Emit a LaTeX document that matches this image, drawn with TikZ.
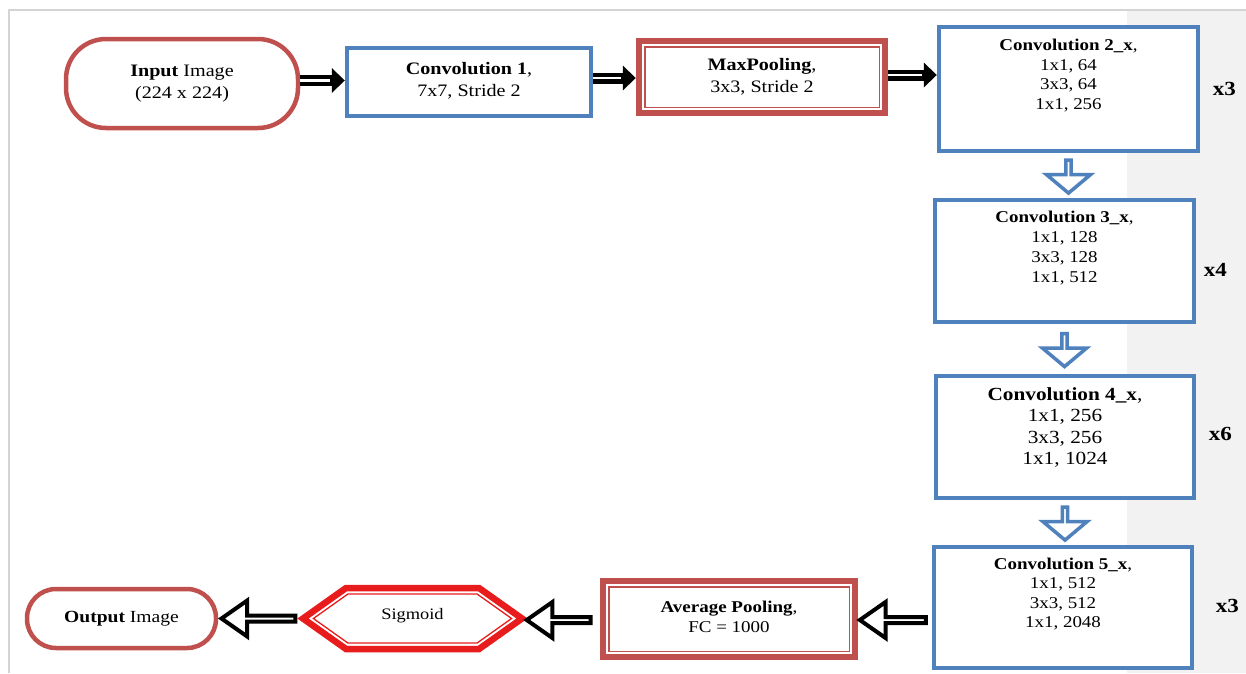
\documentclass[tikz,border=0pt]{standalone}
\usepackage{fontspec}
\setmainfont{Liberation Serif}[FakeStretch=1.15]
\usetikzlibrary{arrows.meta,shapes.arrows,calc}
\definecolor{cblue}{RGB}{79,129,189}
\definecolor{cred}{RGB}{192,80,77}
\definecolor{sred}{RGB}{232,28,28}
\definecolor{bggray}{RGB}{242,242,242}
\definecolor{framegray}{RGB}{212,212,212}
\tikzset{
  txt/.style={align=center, inner sep=0pt, text=black},
  bluebox/.style={draw=cblue, line width=4.5pt, fill=white, inner sep=0pt},
  roundbox/.style={draw=cred, line width=4.5pt, fill=white, align=center, inner sep=0pt},
  dblbox/.style={draw=cred, line width=6.5pt, fill=white, align=center, inner sep=0pt},
  innerline/.style={draw=cred, line width=1.5pt},
  blk/.style={black, line width=11pt, -{Triangle[length=13pt,width=25pt,line width=0pt]}},
  blkin/.style={white, line width=2.5pt},
  harrow/.style={single arrow, draw=black, fill=white, line width=4pt, minimum width=36pt,
     single arrow head extend=10pt, single arrow tip angle=70, inner sep=0pt, sloped, allow upside down},
  barrow/.style={single arrow, draw=cblue, fill=white, line width=3.5pt, minimum width=44pt,
     single arrow head extend=13pt, single arrow tip angle=100, inner sep=0pt, sloped, allow upside down,
     minimum height=33pt},
  rep/.style={font=\fontsize{20}{24}\selectfont\bfseries, inner sep=0pt}
}
\begin{document}
\begin{tikzpicture}[x=1pt,y=-1pt]
\useasboundingbox (0,0) rectangle (1246,673);
\fill[white] (0,0) rectangle (1246,673);
\fill[bggray] (1127,11) rectangle (1246,673);
\draw[framegray, line width=2pt] (9,673) -- (9,10) -- (1246,10);

% top row
\node[roundbox, rounded corners=40pt, minimum width=232pt, minimum height=89pt,
      font=\fontsize{17.5}{22}\selectfont] (in) at (182,83.5) {\textbf{Input} Image\\(224 x 224)};
\node[bluebox, align=center, minimum width=244pt, minimum height=68pt,
      font=\fontsize{17.5}{22}\selectfont] (c1) at (469,82) {\raisebox{5pt}{\textbf{Convolution 1},}\\\raisebox{5pt}{7x7, Stride 2}};
\node[dblbox, minimum width=246pt, minimum height=72pt,
      font=\fontsize{17.5}{22}\selectfont] (mp) at (762,77) {\raisebox{4pt}{\textbf{MaxPooling},}\\\raisebox{4pt}{3x3, Stride 2}};
\draw[innerline] ([shift={(9pt,-9pt)}]mp.north west) rectangle ([shift={(-9pt,9pt)}]mp.south east);

% conv stages
\node[bluebox, minimum width=259pt, minimum height=124pt] (c2) at (1068.5,89) {};
\node[txt, font=\fontsize{16.5}{19.5}\selectfont] (c2t) at ([yshift=13.5pt]c2.center) {\textbf{Convolution 2\_x},\\1x1, 64\\3x3, 64\\1x1, 256};
\node[rep] (r2) at ([xshift=24pt]c2.east) {x3};

\node[bluebox, minimum width=259pt, minimum height=122pt] (c3) at (1064.5,261) {};
\node[txt, font=\fontsize{16.5}{20}\selectfont] (c3t) at ([yshift=13pt]c3.center) {\textbf{Convolution 3\_x},\\1x1, 128\\3x3, 128\\1x1, 512};
\node[rep] (r3) at ([xshift=19pt,yshift=-9pt]c3.east) {x4};

\node[bluebox, minimum width=258pt, minimum height=122pt] (c4) at (1065,437) {};
\node[txt, font=\fontsize{18.5}{21.5}\selectfont] (c4t) at ([yshift=9.5pt]c4.center) {\textbf{Convolution 4\_x},\\1x1, 256\\3x3, 256\\1x1, 1024};
\node[rep] (r4) at ([xshift=24pt,yshift=3pt]c4.east) {x6};

\node[bluebox, minimum width=258pt, minimum height=121pt] (c5) at (1063,607.5) {};
\node[txt, font=\fontsize{16.5}{19.5}\selectfont] (c5t) at ([yshift=13.5pt]c5.center) {\textbf{Convolution 5\_x},\\1x1, 512\\3x3, 512\\1x1, 2048};
\node[rep] (r5) at ([xshift=33pt,yshift=2pt]c5.east) {x3};

% bottom row
\node[dblbox, minimum width=252pt, minimum height=76pt,
      font=\fontsize{16.5}{20}\selectfont] (avg) at (729,619) {\raisebox{4pt}{\textbf{Average Pooling},}\\\raisebox{4pt}{FC = 1000}};
\draw[innerline] ([shift={(9pt,-9pt)}]avg.north west) rectangle ([shift={(-9pt,9pt)}]avg.south east);

\node[minimum width=219pt, minimum height=61pt, inner sep=0pt, outer sep=0pt,
      font=\fontsize{16}{19}\selectfont] (sig) at (412.5,618.5) {\raisebox{9pt}{Sigmoid}};
\draw[sred, line width=6.5pt, line join=miter]
  (sig.west) -- ([xshift=43pt]sig.north west) -- ([xshift=-43pt]sig.north east)
  -- (sig.east) -- ([xshift=-43pt]sig.south east) -- ([xshift=43pt]sig.south west) -- cycle;
\draw[sred, line width=1.3pt, line join=miter]
  ([xshift=10.4pt]sig.west) -- ([shift={(44.9pt,-6pt)}]sig.north west) -- ([shift={(-44.9pt,-6pt)}]sig.north east)
  -- ([xshift=-10.4pt]sig.east) -- ([shift={(-44.9pt,6pt)}]sig.south east) -- ([shift={(44.9pt,6pt)}]sig.south west) -- cycle;

\node[roundbox, rounded corners=29pt, minimum width=189pt, minimum height=59pt,
      font=\fontsize{17}{20}\selectfont] (out) at (121.5,618.5) {\textbf{Output} Image};

% top arrows
\draw[blk] ([yshift=3pt]in.east) -- ([yshift=3pt]in.east -| c1.west);
\draw[blkin, shorten >=15pt] ([yshift=3pt]in.east) -- ([yshift=3pt]in.east -| c1.west);
\draw[blk] ([yshift=4pt]c1.east) -- ([yshift=4pt]c1.east -| mp.west);
\draw[blkin, shorten >=15pt] ([yshift=4pt]c1.east) -- ([yshift=4pt]c1.east -| mp.west);
\draw[blk] ([yshift=2pt]mp.east) -- ([yshift=2pt]mp.east -| c2.west);
\draw[blkin, shorten >=15pt] ([yshift=2pt]mp.east) -- ([yshift=2pt]mp.east -| c2.west);

% down arrows
\path (c2.south) -- (c2.south |- c3.north) node[barrow, midway] (a23) {};
\path (c3.south) -- (c3.south |- c4.north) node[barrow, midway] (a34) {};
\path (c4.south) -- (c4.south |- c5.north) node[barrow, midway] (a45) {};

% bottom arrows
\path ([yshift=-1pt]c5.west |- avg.east) -- ([yshift=-1pt]avg.east) node[harrow, midway, minimum height=66pt] (a5a) {};
\path ([yshift=-1pt]avg.west) -- ([yshift=-1pt]avg.west -| sig.east) node[harrow, midway, minimum height=64pt] (aas) {};
\path (sig.west) -- (sig.west -| out.east) node[harrow, midway, minimum height=74pt] (aso) {};
\end{tikzpicture}
\end{document}
